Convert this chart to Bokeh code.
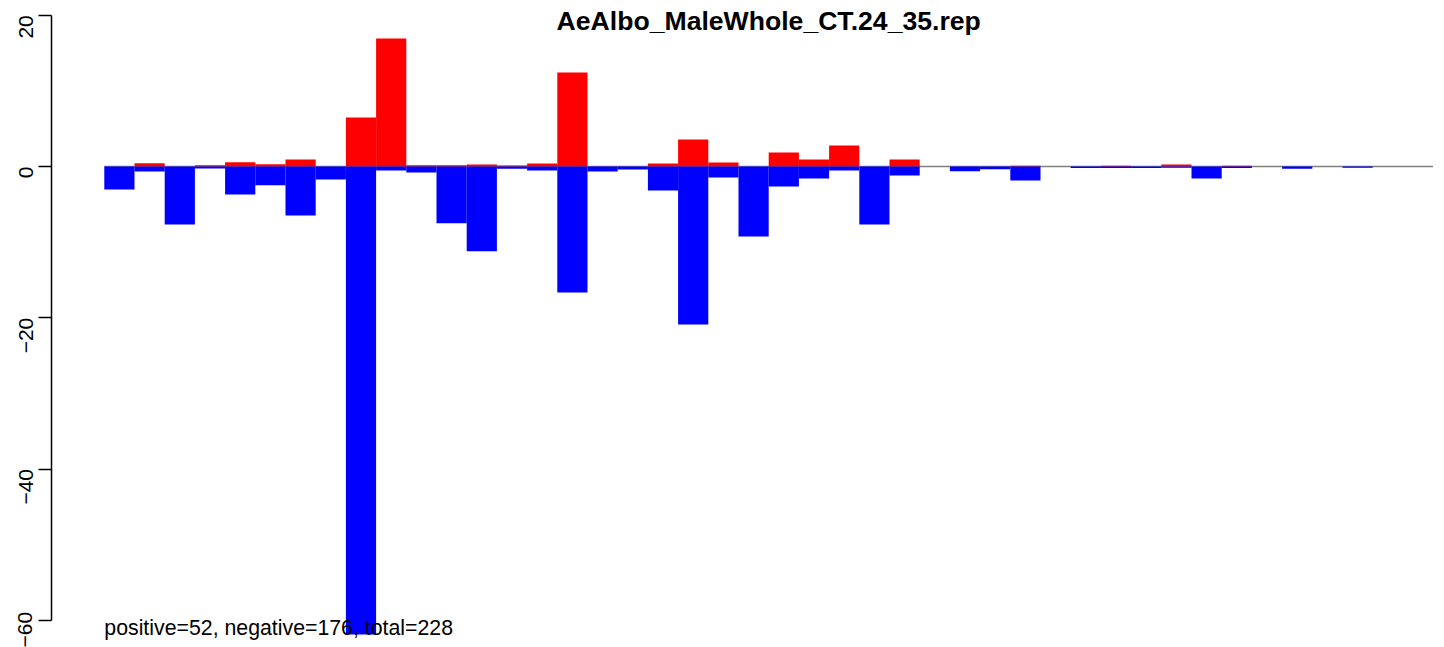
import math
from bokeh.plotting import figure
from bokeh.models import Range1d, FixedTicker, Label
from bokeh.embed import file_html
from bokeh.resources import INLINE

title_text = "AeAlbo_MaleWhole_CT.24_35.rep"
summary_text = "positive=52, negative=176, total=228"

positive = [0, 0.44, 0, 0.15, 0.57, 0.3, 0.93, 0, 6.48, 16.93,
            0.18, 0.18, 0.26, 0.13, 0.4, 12.43, 0, 0, 0.4, 3.57,
            0.53, 0, 1.85, 0.93, 2.78, 0, 0.93, 0, 0, 0,
            0.1, 0, 0, 0.1, 0, 0.25, 0, 0.1, 0, 0,
            0, 0, 0, 0]
negative = [-3.04, -0.66, -7.67, -0.26, -3.7, -2.47, -6.48, -1.72, -61.9, -0.53,
            -0.79, -7.5, -11.2, -0.3, -0.53, -16.66, -0.66, -0.4, -3.17, -20.9,
            -1.45, -9.25, -2.64, -1.59, -0.53, -7.67, -1.19, 0, -0.62, -0.35,
            -1.85, 0, -0.2, -0.2, -0.2, -0.15, -1.6, -0.2, 0, -0.3,
            0, -0.15, 0, 0]
y_ticks = [-60, -40, -20, 0, 20]
y_tick_labels = ["\u221260", "\u221240", "\u221220", "0", "20"]

n = len(positive)
centers = [i + 0.5 for i in range(n)]

FONT = "Liberation Sans"
W, H = 1444, 647
left_border = 51
px_per_x = 30.2
px_per_y = 7.5625
x_start = -(103.8 - left_border) / px_per_x
x_end = x_start + (W - left_border) / px_per_x
y_end = 166 / px_per_y
y_start = y_end - H / px_per_y

p = figure(width=W, height=H, output_backend="svg", toolbar_location=None,
           x_range=Range1d(x_start, x_end), y_range=Range1d(y_start, y_end),
           x_axis_location=None, y_axis_location="left",
           min_border_left=left_border, min_border_right=0,
           min_border_top=0, min_border_bottom=0)
p.outline_line_color = None
p.grid.visible = False
p.background_fill_color = "white"
p.border_fill_color = "white"

p.line(x=[0, n], y=[0, 0], line_color="gray", line_width=1.5)
p.vbar(x=centers, width=1.0, bottom=0, top=positive, fill_color="#ff0000", line_color=None)
p.vbar(x=centers, width=1.0, bottom=negative, top=0, fill_color="#0000ff", line_color=None)

ax = p.yaxis[0]
ax.ticker = FixedTicker(ticks=y_ticks)
ax.major_label_overrides = {t: l for t, l in zip(y_ticks, y_tick_labels)}
ax.bounds = (min(y_ticks), max(y_ticks))
ax.minor_tick_line_color = None
ax.major_tick_out = 13
ax.major_tick_in = 0
ax.major_tick_line_width = 1.5
ax.major_tick_line_color = "black"
ax.axis_line_width = 1.5
ax.axis_line_color = "black"
ax.major_label_orientation = math.pi / 2
ax.major_label_standoff = 13
ax.major_label_text_font = FONT
ax.major_label_text_font_size = "21px"
ax.major_label_text_color = "black"

p.add_layout(Label(x=n / 2, y=y_end - 20 / px_per_y, text=title_text, text_align="center",
                   text_baseline="alphabetic", text_font=FONT, text_font_size="26.6px",
                   text_font_style="bold", text_color="black"))
p.add_layout(Label(x=0, y=-61, text=summary_text, text_align="left",
                   text_baseline="middle", text_font=FONT, text_font_size="21.3px",
                   text_color="black"))

open("out.html", "w").write(file_html(p, INLINE))
